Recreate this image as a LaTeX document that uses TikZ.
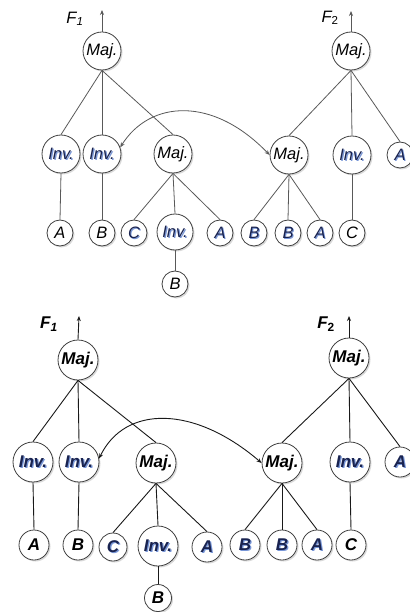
\documentclass[tikz,border=0pt]{standalone}
\usepackage{fontspec}
\setmainfont{Liberation Sans}
\usetikzlibrary{shadows,arrows.meta}
\definecolor{shblue}{RGB}{120,150,215}
\definecolor{navy}{RGB}{25,35,80}
\newcommand\shtxt[1]{\rlap{\kern1.2pt\raisebox{-1.2pt}{\textcolor{shblue}{#1}}}\textcolor{navy}{#1}}
\begin{document}
\begin{tikzpicture}[x=1pt,y=-1pt,
  big/.style={circle,draw=black!75,line width=0.8pt,fill=white,inner sep=0pt,minimum size=38pt,
    drop shadow={shadow xshift=1.5pt,shadow yshift=-1.5pt,opacity=0.3}},
  leaf/.style={big,minimum size=26pt},
  edge/.style={draw=black!65,line width=0.8pt},
  edgeb/.style={draw=black!90,line width=0.9pt},
  tip/.style={-{Stealth[length=5pt,width=4pt]}},
  dtip/.style={{Stealth[length=5pt,width=4pt]}-{Stealth[length=5pt,width=4pt]}},
  tfont/.style={font=\fontsize{16.5}{16.5}\selectfont\itshape},
  bfont/.style={font=\fontsize{17}{17}\selectfont\bfseries\itshape},
  lbl/.style={inner sep=0pt}
]
\useasboundingbox (0,0) rectangle (409,612);

% ================= TOP DIAGRAM =================
\begin{scope}[every node/.append style={tfont}]
\node[lbl] (tF1) at (75,19) {F\textsubscript{1}};
\node[lbl] (tF2) at (330,18) {F{\upshape\textsubscript{2}}};
\coordinate (tF1a) at (102,10);
\coordinate (tF2a) at (351,11);

\node[big] (tM1) at (102,51) {Maj.};
\node[big] (tM4) at (351,51) {Maj.};

\node[big] (tI1) at (61,154) {\shtxt{Inv.}};
\node[big] (tI2) at (102,154) {\shtxt{Inv.}};
\node[big] (tM2) at (173,154) {Maj.};
\node[big] (tM3) at (289,155) {Maj.};
\node[big] (tI3) at (352,155) {\shtxt{Inv.}};
\node[leaf] (tA0) at (400,155) {\shtxt{A}};

\node[leaf] (tA1) at (60,233) {A};
\node[leaf] (tB1) at (102,233) {B};
\node[leaf] (tC1) at (134,233) {\shtxt{C}};
\node[big,minimum size=36pt] (tI4) at (175,232) {\shtxt{Inv.}};
\node[leaf] (tA2) at (220,233) {\shtxt{A}};
\node[leaf] (tB2) at (254,233) {\shtxt{B}};
\node[leaf] (tB3) at (288,233) {\shtxt{B}};
\node[leaf] (tA3) at (320,233) {\shtxt{A}};
\node[leaf] (tC2) at (352,233) {C};
\node[leaf] (tB4) at (175,284) {B};
\end{scope}

\draw[edge,tip] (tM1.north) -- (tF1a);
\draw[edge,tip] (tM4.north) -- (tF2a);
\foreach \c in {tI1,tI2,tM2} \draw[edge] (tM1.south) -- (\c.north);
\foreach \c in {tC1,tI4,tA2} \draw[edge] (tM2.south) -- (\c.north);
\foreach \c in {tM3,tI3,tA0} \draw[edge] (tM4.south) -- (\c.north);
\foreach \c in {tB2,tB3,tA3} \draw[edge] (tM3.south) -- (\c.north);
\draw[edge] (tI1.south) -- (tA1.north);
\draw[edge] (tI2.south) -- (tB1.north);
\draw[edge] (tI3.south) -- (tC2.north);
\draw[edge] (tI4.south) -- (tB4.north);
\draw[edge,dtip] (tI2.20) .. controls (150,100) and (213,96) .. (tM3.west);

% ================= BOTTOM DIAGRAM =================
\begin{scope}[every node/.append style={bfont}]
\node[lbl] (bF1) at (49,324) {F\textsubscript{1}};
\node[lbl] (bF2) at (326,324) {F{\upshape\textsubscript{2}}};
\coordinate (bF1a) at (79,316);
\coordinate (bF2a) at (349,316);

\node[big,minimum size=40pt] (bM1) at (78,360) {Maj.};
\node[big,minimum size=40pt] (bM4) at (349,358) {Maj.};

\node[big,minimum size=40pt] (bI1) at (33,462) {\shtxt{Inv.}};
\node[big,minimum size=40pt] (bI2) at (79,462) {\shtxt{Inv.}};
\node[big,minimum size=40pt] (bM2) at (156,463) {Maj.};
\node[big,minimum size=40pt] (bM3) at (282,463) {Maj.};
\node[big,minimum size=40pt] (bI3) at (350,462) {\shtxt{Inv.}};
\node[leaf,minimum size=30pt] (bA0) at (400,462) {\shtxt{A}};

\node[leaf,minimum size=30pt] (bA1) at (34,545) {A};
\node[leaf,minimum size=30pt] (bB1) at (78,545) {B};
\node[leaf,minimum size=28pt] (bC1) at (113,547) {\shtxt{C}};
\node[big,minimum size=40pt] (bI4) at (158,546) {\shtxt{Inv.}};
\node[leaf,minimum size=30pt] (bA2) at (207,547) {\shtxt{A}};
\node[leaf,minimum size=30pt] (bB2) at (245,545) {\shtxt{B}};
\node[leaf,minimum size=30pt] (bB3) at (282,545) {\shtxt{B}};
\node[leaf,minimum size=30pt] (bA3) at (317,545) {\shtxt{A}};
\node[leaf,minimum size=30pt] (bC2) at (351,545) {C};
\node[leaf,minimum size=27pt] (bB4) at (158,598) {B};
\end{scope}

\draw[edgeb,tip] (bM1.north) -- (bF1a);
\draw[edgeb,tip] (bM4.north) -- (bF2a);
\foreach \c in {bI1,bI2,bM2} \draw[edgeb] (bM1.south) -- (\c.north);
\foreach \c in {bC1,bI4,bA2} \draw[edgeb] (bM2.south) -- (\c.north);
\foreach \c in {bM3,bI3,bA0} \draw[edgeb] (bM4.south) -- (\c.north);
\foreach \c in {bB2,bB3,bA3} \draw[edgeb] (bM3.south) -- (\c.north);
\draw[edgeb] (bI1.south) -- (bA1.north);
\draw[edgeb] (bI2.south) -- (bB1.north);
\draw[edgeb] (bI3.south) -- (bC2.north);
\draw[edgeb] (bI4.south) -- (bB4.north);
\draw[edgeb,dtip] (bI2.10) .. controls (125,405) and (194,405) .. (bM3.west);
\end{tikzpicture}
\end{document}
